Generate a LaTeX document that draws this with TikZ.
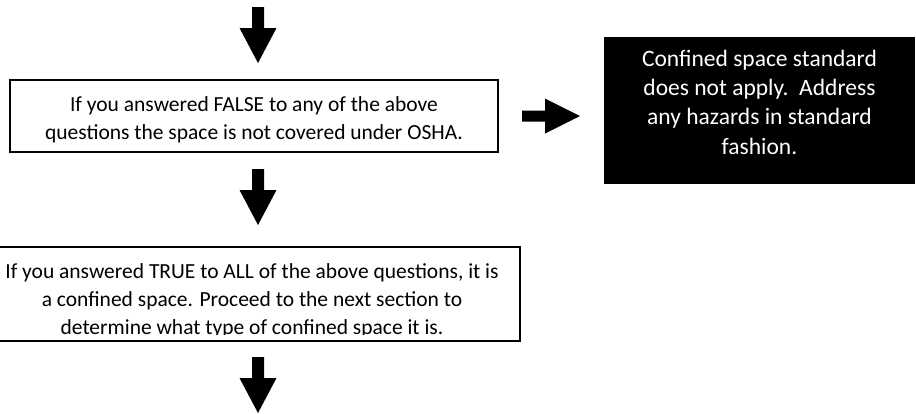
\documentclass[tikz,border=0pt]{standalone}
\usepackage{fontspec}
\setmainfont{Carlito}
\usetikzlibrary{calc}

\tikzset{
  framebox/.style={draw=black,line width=2pt,inner sep=0pt},
  darkbox/.style={fill=black,inner sep=0pt,minimum width=311pt,minimum height=147pt},
  boxtext/.style={align=center,inner sep=0pt,font=\fontsize{21.5}{27.8}\selectfont},
  darktext/.style={align=center,inner sep=0pt,text=white,font=\fontsize{23.5}{29.3}\selectfont},
  downarrow/.pic={\fill (-6,0) -- (6,0) -- (6,21) -- (18.5,21) -- (0,56) -- (-18.5,21) -- (-6,21) -- cycle;},
  rightarrow/.pic={\fill (0,-5.5) -- (23,-5.5) -- (23,-17.5) -- (58,0) -- (23,17.5) -- (23,5.5) -- (0,5.5) -- cycle;}
}

\begin{document}
\begin{tikzpicture}[x=1pt,y=-1pt]
  \useasboundingbox (0,0) rectangle (916,413);
  % arrows
  \pic at (258,7) {downarrow};
  \pic at (258,169) {downarrow};
  \pic at (258,357) {downarrow};
  \pic at (522,116) {rightarrow};
  % first box
  \node[framebox,minimum width=488pt,minimum height=72pt] (falsebox) at (254,116) {};
  \node[boxtext] (falsetext) at (254,120) {If you answered FALSE to any of the above\\questions the space is not covered under OSHA.};
  % box on the right
  \node[darkbox] (nobox) at (759.5,110.5) {};
  \node[darktext] (notext) at (759.5,102) {Confined space standard\\does not apply.\ \ Address\\any hazards in standard\\fashion.};
  % second box, last line cut off
  \node[framebox,minimum width=536pt,minimum height=94pt] (truebox) at (252,294) {};
  \begin{scope}
    \clip (-16,248) rectangle (520,334.5);
    \node[boxtext] (truetext) at (252,301) {If you answered TRUE to ALL of the above questions, it is\\a confined space. Proceed to the next section to\\determine what type of confined space it is.};
  \end{scope}
\end{tikzpicture}
\end{document}
